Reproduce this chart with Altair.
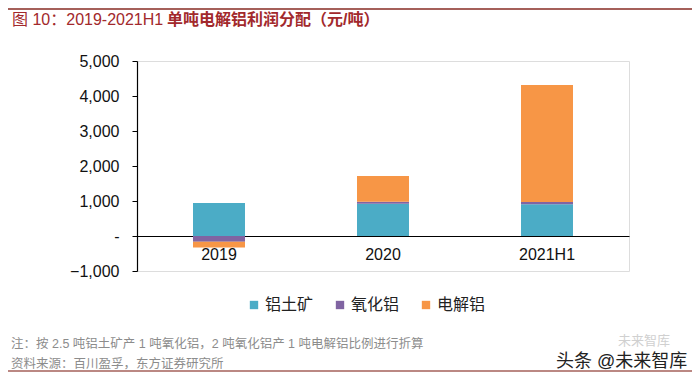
import altair as alt
import pandas as pd

categories = ["2019", "2020", "2021H1"]
series = ["铝土矿", "氧化铝", "电解铝"]
bauxite = [940, 923, 905]
alumina = [-165, 57, 66]
electrolytic = [-165, 734, 3345]
colors = ["#4BACC6", "#8064A2", "#F79646"]

rows = []
for i, c in enumerate(categories):
    for j, (s, vals) in enumerate(zip(series, [bauxite, alumina, electrolytic])):
        rows.append({"year": c, "series": s, "value": vals[i], "ord": j})
df = pd.DataFrame(rows)

FONT = "Liberation Sans, Arial, Noto Sans CJK SC"
W, H = 492, 210

bars = alt.Chart(df).mark_bar().encode(
    x=alt.X("year:N", sort=categories,
            scale=alt.Scale(paddingInner=0.683, paddingOuter=0.3415),
            axis=alt.Axis(title=None, labelAngle=0, ticks=False, offset=-35,
                          domainColor="#000", domainWidth=1.2, labelFontSize=16,
                          labelColor="#111", labelPadding=10, labelFont=FONT)),
    y=alt.Y("value:Q", stack="zero",
            scale=alt.Scale(domain=[-1000, 5000], nice=False),
            axis=alt.Axis(title=None, values=[-1000, 0, 1000, 2000, 3000, 4000, 5000],
                          labelExpr="datum.value == 0 ? '-' : format(datum.value, ',')",
                          grid=False, domainColor="#000", domainWidth=1.2,
                          tickColor="#000", tickSize=5, labelFontSize=16,
                          labelColor="#111", labelPadding=13, labelFont=FONT)),
    color=alt.Color("series:N", sort=series,
                    scale=alt.Scale(domain=series, range=colors),
                    legend=alt.Legend(title=None, orient="none", direction="horizontal",
                                      legendX=109, legendY=236, symbolType="square",
                                      symbolSize=70, labelFontSize=16, labelFont=FONT,
                                      labelColor="#222", columnPadding=18,
                                      labelOffset=3, symbolStrokeWidth=0)),
    order=alt.Order("ord:Q"),
)

def txt(text, x, y, size, color, weight="normal", align="left"):
    return alt.Chart(pd.DataFrame({"t": [text]})).mark_text(
        align=align, baseline="middle", fontSize=size, font=FONT,
        color=color, fontWeight=weight
    ).encode(text="t:N", x=alt.value(x), y=alt.value(y))

ox, oy = 137, 61  # plot origin in page coordinates (for offset calc)
title1 = txt("图 10：2019-2021H1", 12 - ox, 20 - oy, 16, "#A2292C")
title2 = txt("单吨电解铝利润分配（元/吨）", 167 - ox, 20 - oy, 16, "#A2292C", "bold")
note1 = txt("注：按 2.5 吨铝土矿产 1 吨氧化铝，2 吨氧化铝产 1 吨电解铝比例进行折算",
            11 - ox, 344 - oy, 12.5, "#8C8C8C")
note2 = txt("资料来源：百川盈孚，东方证券研究所", 11 - ox, 364 - oy, 12.5, "#8C8C8C")
wm_faint = txt("未来智库", 618 - ox, 341 - oy, 13, "#D0D0D0")
wm = txt("头条 @未来智库", 556 - ox, 362 - oy, 18, "#222")

top_rule = alt.Chart(pd.DataFrame({"a": [0]})).mark_rule(color="#A5605A", strokeWidth=2).encode(
    x=alt.value(8 - ox), x2=alt.value(692 - ox), y=alt.value(9 - oy))
bot_rule = alt.Chart(pd.DataFrame({"a": [0]})).mark_rule(color="#A5605A", strokeWidth=1.5).encode(
    x=alt.value(8 - ox), x2=alt.value(692 - ox), y=alt.value(371 - oy))

chart = alt.layer(bars, title1, title2, note1, note2, wm_faint, wm, top_rule, bot_rule).properties(
    width=W, height=H,
    autosize=alt.AutoSizeParams(type="none"),
    padding={"left": 129, "top": 53, "right": 63, "bottom": 101},
).configure_view(stroke=None).configure(background="white")

chart.save("out.html", embed_options={"renderer": "svg", "actions": False})
